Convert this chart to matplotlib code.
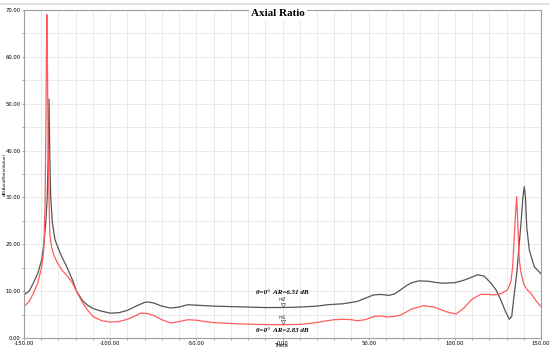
import matplotlib.pyplot as plt
from matplotlib.lines import Line2D
from matplotlib.ticker import MultipleLocator, FormatStrFormatter

# Theta (deg) and axial ratio (dB)
black_theta = [-150, -147, -144.6, -142, -139.7, -138.5, -137.5, -136.5, -136, -135.5,
               -135, -134.5, -133.5, -132, -130, -128, -125.2, -122, -119.4, -116,
               -113.5, -110, -105.8, -100, -95, -90, -85, -80, -78.5, -75,
               -70, -65, -60, -55, -50, -45, -40, -30, -20, -10,
               0, 10, 20, 26, 35, 43.4, 48, 53, 57, 61.7,
               65, 68.6, 72, 75, 79.2, 85, 90, 93.8, 100, 105,
               110, 113.2, 117, 121, 124, 126.7, 129, 131.6, 133, 134.5,
               136, 137.4, 138.5, 139.5, 140.3, 141, 141.7, 143.2, 146.1, 150]
black_ar = [9.2, 10.0, 11.7, 13.8, 16.7, 20, 24, 30, 38, 51,
            38, 30, 24.5, 21, 19, 17.3, 15.2, 12.5, 9.9, 8.0,
            7.1, 6.3, 5.8, 5.3, 5.4, 5.9, 6.8, 7.6, 7.7, 7.5,
            6.8, 6.4, 6.6, 7.1, 7.0, 6.9, 6.8, 6.7, 6.6, 6.5,
            6.51, 6.6, 6.8, 7.1, 7.3, 7.8, 8.5, 9.2, 9.3, 9.1,
            9.4, 10.3, 11.2, 11.8, 12.2, 12.1, 11.8, 11.7, 11.8, 12.3,
            13.0, 13.5, 13.2, 11.7, 10.2, 8.1, 6.0, 4.0, 4.6, 9.5,
            14, 20.2, 25, 30, 32.3, 30, 23.8, 18.8, 15.2, 13.7]

red_theta = [-150, -147, -144.6, -142, -139.7, -138.5, -137.8, -137.3, -137, -136.7,
             -136.4, -136, -135.5, -135, -134, -133, -131, -128, -125, -122,
             -119, -116, -113, -110, -105, -100, -95, -90, -85, -82.5,
             -78, -74, -70, -65, -60, -55, -50, -45, -40, -30,
             -24.4, -15, -5, 0, 10, 20, 26, 30, 35.5, 40,
             43.4, 48, 53, 57, 60.8, 65, 68.6, 75, 82, 88,
             95, 100.6, 105, 110, 115, 119, 122.8, 127, 130.6, 132.5,
             133.5, 134.5, 135.3, 135.9, 136.6, 137.4, 138.4, 140, 142, 144.2,
             147, 150]
red_ar = [6.7, 7.8, 9.5, 11.8, 15.2, 19, 28, 45, 60, 69,
          58, 42, 30, 22, 19.5, 18, 16.3, 14.5, 13.3, 11.8,
          9.6, 7.5, 5.9, 4.6, 3.7, 3.4, 3.5, 4.0, 4.8, 5.3,
          5.2, 4.7, 3.9, 3.2, 3.5, 3.9, 3.8, 3.5, 3.3, 3.1,
          3.0, 2.9, 2.85, 2.83, 2.9, 3.3, 3.7, 3.9, 4.0, 3.9,
          3.7, 3.9, 4.6, 4.7, 4.5, 4.6, 4.9, 6.2, 6.9, 6.6,
          5.6, 5.1, 6.3, 8.3, 9.3, 9.3, 9.2, 9.5, 10.3, 12,
          15, 21.6, 27, 30.2, 23.8, 16.7, 13.9, 11.5, 10.3, 9.5,
          8.0, 6.7]

markers = {'m2': (0, 6.51), 'm1': (0, 2.83)}

fig = plt.figure(figsize=(5.5, 3.49), dpi=100)
ax = fig.add_axes([24 / 550, 11 / 349, 517 / 550, 328 / 349])

ax.plot(black_theta, black_ar, color='#555555', linewidth=0.9)
ax.plot(red_theta, red_ar, color='#ff5c5c', linewidth=0.9)

# marker triangles + names
for name, (mx, my) in markers.items():
    ax.plot(mx, my + 0.6, marker='v', markersize=3, markerfacecolor='white',
            markeredgecolor='#555555', markeredgewidth=0.5)
    ax.text(mx, my + 1.6, name, fontsize=3.3, ha='center', va='center', color='#333333')

tfont = dict(family='Liberation Serif', style='italic', weight='bold', fontsize=5)
ax.text(0, 9.7, '\u03b8=0\u00b0  AR=6.51 dB', ha='center', va='center', **tfont)
ax.text(0, 1.55, '\u03b8=0\u00b0  AR=2.83 dB', ha='center', va='center', **tfont)

ax.set_xlim(-150, 150)
ax.set_ylim(0, 70)
ax.xaxis.set_major_locator(MultipleLocator(50))
ax.xaxis.set_minor_locator(MultipleLocator(10))
ax.yaxis.set_major_locator(MultipleLocator(10))
ax.yaxis.set_minor_locator(MultipleLocator(5))
ax.xaxis.set_major_formatter(FormatStrFormatter('%.2f'))
ax.yaxis.set_major_formatter(FormatStrFormatter('%.2f'))
ax.grid(which='both', color='#e6e6e6', linewidth=0.6)
ax.set_axisbelow(True)
ax.tick_params(which='both', labelsize=3.8, length=1.5, width=0.5, color='#888888', pad=1)

for s in ax.spines.values():
    s.set_color('#a0a0a0')
    s.set_linewidth(0.8)

fig.text(282 / 550, 3.5 / 349, 'Theta', fontsize=3.4, ha='center', va='center')
fig.text(4.5 / 550, 1 - 174 / 349, 'dB(AxialRatioValue)', fontsize=3.2, rotation=90,
         ha='center', va='center')

# faint frame line at the very top
fig.add_artist(Line2D([0, 1], [1 - 4 / 349, 1 - 4 / 349], color='#dddddd', linewidth=1.2))

fig.text(278 / 550, 1 - 13 / 349, 'Axial Ratio', family='Liberation Serif', weight='bold',
         fontsize=8, ha='center', va='center',
         bbox=dict(facecolor='white', edgecolor='none', pad=1.5))

fig.savefig('out.png', dpi=100)
